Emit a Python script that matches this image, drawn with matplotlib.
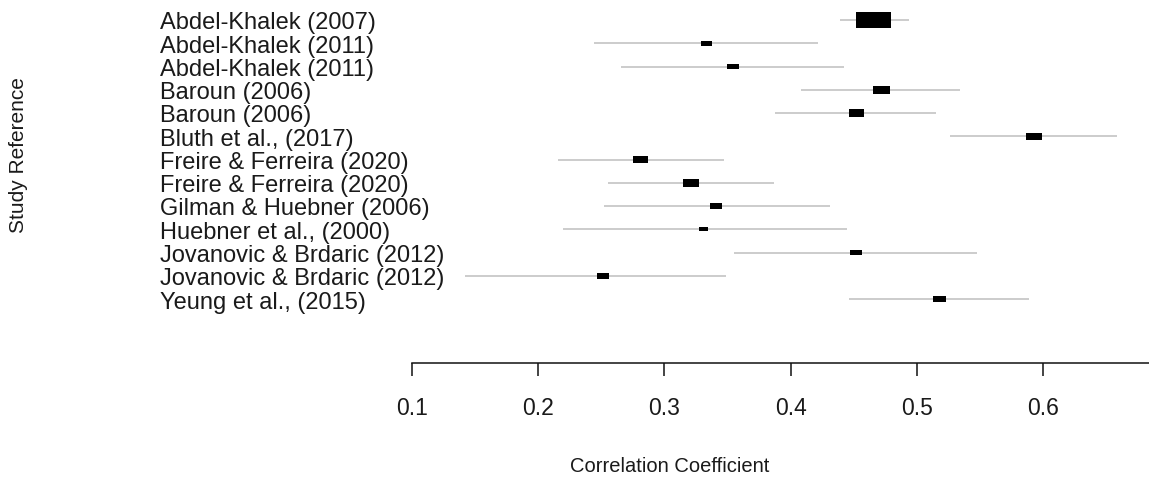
import matplotlib
matplotlib.use("Agg")
import matplotlib.pyplot as plt
from matplotlib.patches import Rectangle
from matplotlib.transforms import blended_transform_factory
import numpy as np

studies = ["Abdel-Khalek (2007)", "Abdel-Khalek (2011)", "Abdel-Khalek (2011)",
           "Baroun (2006)", "Baroun (2006)", "Bluth et al., (2017)",
           "Freire & Ferreira (2020)", "Freire & Ferreira (2020)",
           "Gilman & Huebner (2006)", "Huebner et al., (2000)",
           "Jovanovic & Brdaric (2012)", "Jovanovic & Brdaric (2012)",
           "Yeung et al., (2015)"]
estimate = [0.466, 0.333, 0.354, 0.472, 0.452, 0.593, 0.281, 0.321, 0.341, 0.331, 0.452, 0.251, 0.518]
ci_low   = [0.439, 0.244, 0.266, 0.408, 0.388, 0.526, 0.216, 0.255, 0.252, 0.220, 0.355, 0.142, 0.446]
ci_high  = [0.494, 0.422, 0.442, 0.534, 0.515, 0.659, 0.347, 0.387, 0.431, 0.445, 0.548, 0.349, 0.589]
weights  = [36.1, 3.6, 4.2, 8.0, 6.6, 7.1, 6.6, 7.5, 4.2, 2.5, 4.2, 4.2, 5.0]
xticks = [0.1, 0.2, 0.3, 0.4, 0.5, 0.6]

W, H = 1149, 481
plt.rcParams['font.family'] = ['Liberation Sans', 'DejaVu Sans']
fig = plt.figure(figsize=(W/100, H/100), dpi=100)

txt_color = '#1a1a1a'
ax_bottom_px = 364
ax = fig.add_axes([0, 1 - ax_bottom_px/H, 1, ax_bottom_px/H])
px_per_unit = 1262.0
x0 = 0.1 - 412/px_per_unit
x1 = 0.1 + (W - 412)/px_per_unit
row_px = 23.25
first_row_px = 21
ax.set_xlim(x0, x1)
ax.set_ylim((ax_bottom_px - first_row_px)/row_px, -first_row_px/row_px)

for s in ['top', 'right', 'left']:
    ax.spines[s].set_visible(False)
ax.spines['bottom'].set_bounds(0.1, x1)
ax.spines['bottom'].set_linewidth(1.1)
ax.spines['bottom'].set_color('#111111')
ax.set_yticks([])
ax.set_xticks(xticks)
ax.set_xticklabels([f"{t:.1f}" for t in xticks], fontsize=16.5, color=txt_color)
ax.tick_params(axis='x', length=9.5, width=1.1, pad=14, color='#111111')

wmax = max(weights)
for i, (e, lo, hi, w) in enumerate(zip(estimate, ci_low, ci_high, weights)):
    ax.plot([lo, hi], [i, i], color='#c4c4c4', lw=1.2, zorder=1, solid_capstyle='butt')
    bw_px = 35 * np.sqrt(w / wmax)
    bh_px = bw_px * 0.48
    bw = bw_px / px_per_unit
    bh = bh_px / row_px
    ax.add_patch(Rectangle((e - bw/2, i - bh/2), bw, bh, facecolor='black', edgecolor='none', zorder=2))

tr = blended_transform_factory(fig.transFigure, ax.transData)
for i, s in enumerate(studies):
    ax.text(160/W, i, s, transform=tr, ha='left', va='center_baseline', fontsize=17, color=txt_color)

fig.text(670/W, 1 - 466/H, "Correlation Coefficient", ha='center', va='center', fontsize=14.5, color=txt_color)
fig.text(19/W, 1 - 155/H, "Study Reference", ha='center', va='center', rotation=90, fontsize=15, color=txt_color)

fig.savefig("out.png", dpi=100)
